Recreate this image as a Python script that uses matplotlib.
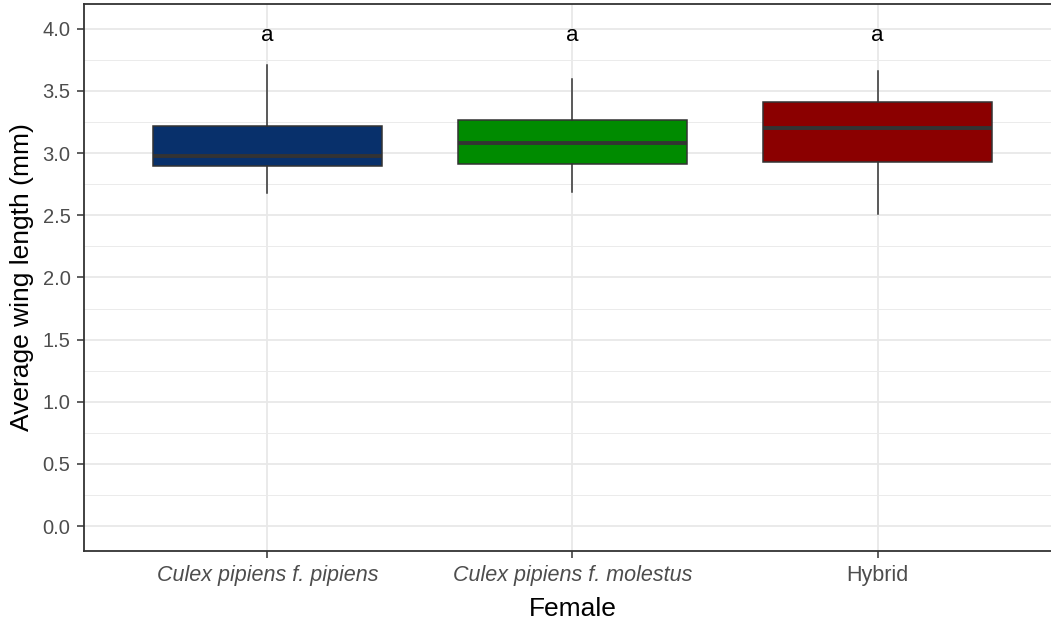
import matplotlib
matplotlib.use("Agg")
import matplotlib.pyplot as plt
from matplotlib.ticker import MultipleLocator

# Wing length summaries per female group (mm)
categories = ["Culex pipiens f. pipiens", "Culex pipiens f. molestus", "Hybrid"]
label_styles = ["italic", "italic", "normal"]
whisker_low = [2.68, 2.69, 2.51]
quartile_1 = [2.90, 2.91, 2.93]
medians = [2.98, 3.08, 3.20]
quartile_3 = [3.22, 3.27, 3.41]
whisker_high = [3.71, 3.60, 3.66]
fill_colors = ["#08306B", "#008B00", "#8B0000"]

# Compact letter display above each group
group_letters = ["a", "a", "a"]
letter_y = 4.0

y_ticks = [0.0, 0.5, 1.0, 1.5, 2.0, 2.5, 3.0, 3.5, 4.0]
y_tick_labels = [f"{v:.1f}" for v in y_ticks]

plt.rcParams["font.family"] = ["Liberation Sans", "DejaVu Sans"]

fig = plt.figure(figsize=(10.51, 6.2), dpi=100)
ax = fig.add_axes([0.0802, 0.1113, 0.929, 0.8823])

positions = list(range(1, len(categories) + 1))
stats = [
    {"whislo": lo, "q1": a, "med": m, "q3": b, "whishi": hi, "label": c}
    for lo, a, m, b, hi, c in zip(whisker_low, quartile_1, medians,
                                  quartile_3, whisker_high, categories)
]

edge = "#333333"
bp = ax.bxp(
    stats,
    positions=positions,
    widths=0.75,
    patch_artist=True,
    showcaps=False,
    showfliers=False,
    boxprops=dict(edgecolor=edge, linewidth=1.1),
    whiskerprops=dict(color=edge, linewidth=1.1),
    medianprops=dict(color=edge, linewidth=2.8, solid_capstyle="butt"),
    zorder=3,
)
for patch, col in zip(bp["boxes"], fill_colors):
    patch.set_facecolor(col)

for x, letter in zip(positions, group_letters):
    ax.annotate(letter, xy=(x, letter_y), xytext=(0, -4.5),
                textcoords="offset points", ha="center", va="center",
                fontsize=16, color="black", zorder=4)

# theme_bw-like panel
ax.set_xlim(0.4, len(categories) + 0.6)
ax.set_ylim(-0.2, 4.2)
ax.set_yticks(y_ticks)
ax.set_yticklabels(y_tick_labels)
ax.yaxis.set_minor_locator(MultipleLocator(0.25))
ax.set_xticks(positions)
ax.set_xticklabels(categories)
for lab, style in zip(ax.get_xticklabels(), label_styles):
    lab.set_fontstyle(style)

ax.set_axisbelow(True)
ax.grid(True, which="major", axis="both", color="#E8E8E8", linewidth=1.3)
ax.grid(True, which="minor", axis="y", color="#EBEBEB", linewidth=0.7)

for side in ["top", "bottom", "left", "right"]:
    ax.spines[side].set_color(edge)
    ax.spines[side].set_linewidth(1.3)

ax.tick_params(axis="both", which="major", length=5, width=1.1,
               color=edge, pad=5, labelcolor="#4D4D4D")
ax.tick_params(axis="x", labelsize=15.5)
ax.tick_params(axis="y", labelsize=14.5)
ax.tick_params(axis="both", which="minor", length=0)

ax.set_xlabel("Female", fontsize=19, color="black", labelpad=8)
ax.set_ylabel("Average wing length (mm)", fontsize=19, color="black", labelpad=6)

fig.savefig("out.png", dpi=100)
